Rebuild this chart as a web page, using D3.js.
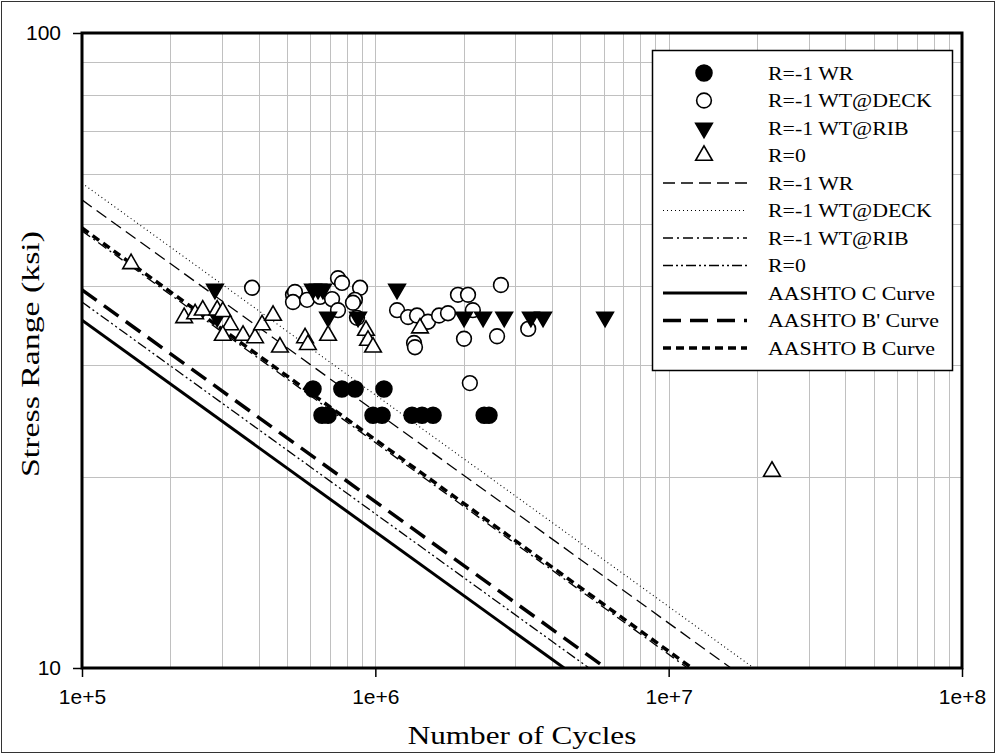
<!DOCTYPE html>
<html>
<head>
<meta charset="utf-8">
<script src="https://cdn.jsdelivr.net/npm/d3@7"></script>
<style>
  body { margin: 0; background: #fff; }
  svg { display: block; }
  .tick text { font-family: "Liberation Sans", Arial, sans-serif; font-size: 21px; fill: #000; }
  .title { font-family: "Liberation Serif", "Times New Roman", serif; font-size: 26px; fill: #000; }
  .leg text { font-family: "Liberation Serif", "Times New Roman", serif; font-size: 19px; fill: #000; }
</style>
</head>
<body>
<div id="chart"></div>
<script>
// test data (N = cycles, S = stress range in ksi)
var wrN = [6.13e5, 7.69e5, 8.53e5, 1.07e6, 6.58e5, 6.90e5, 9.82e5, 1.054e6, 1.334e6, 1.443e6, 1.573e6, 2.35e6, 2.44e6];
var wrS = [27.5, 27.5, 27.5, 27.5, 25, 25, 25, 25, 25, 25, 25, 25, 25];

var deckN = [3.80e5, 5.24e5, 5.32e5, 5.24e5, 5.85e5, 6.48e5, 7.12e5, 7.46e5, 7.70e5, 7.46e5, 8.87e5, 8.52e5, 8.39e5, 8.66e5,
             1.186e6, 1.293e6, 1.387e6, 1.355e6, 1.365e6, 1.512e6, 1.649e6, 1.769e6, 1.913e6, 2.07e6, 2.15e6, 2.006e6, 2.10e6,
             2.68e6, 2.60e6, 3.32e6];
var deckS = [39.7, 38.7, 39.1, 37.7, 38.0, 38.4, 38.1, 41.1, 40.4, 36.6, 39.7, 38.0, 37.6, 35.6,
             36.6, 35.7, 35.9, 32.5, 32.0, 35.1, 35.9, 36.2, 38.7, 38.7, 36.6, 33.0, 28.1,
             40.1, 33.3, 34.2];

var ribN = [2.84e5, 2.89e5, 6.13e5, 6.38e5, 6.63e5, 6.90e5, 8.73e5, 1.186e6, 2.006e6, 2.33e6, 2.75e6, 3.39e6, 3.73e6, 6.07e6];
var ribS = [39.5, 35.7, 39.5, 39.5, 39.5, 35.7, 35.7, 39.5, 35.7, 35.7, 35.7, 35.7, 35.7, 35.7];

var r0N = [1.47e5, 2.23e5, 2.43e5, 2.58e5, 2.89e5, 3.02e5, 3.20e5, 3.02e5, 3.54e5, 3.89e5, 4.11e5, 4.48e5, 4.73e5,
           5.76e5, 5.89e5, 6.90e5, 9.29e5, 9.44e5, 9.82e5, 1.42e6, 2.25e7];
var r0S = [43.3, 35.6, 36.1, 36.6, 36.6, 36.4, 34.7, 33.4, 33.4, 33.1, 34.7, 35.9, 32.0,
           33.1, 32.3, 33.4, 34.0, 32.8, 32.0, 34.3, 20.4];

// fitted S-N lines: stress at N = 1e5 and N where stress reaches 10 ksi
var lineNames = ["R=-1 WR", "R=-1 WT@DECK", "R=-1 WT@RIB", "R=0", "AASHTO C Curve", "AASHTO B' Curve", "AASHTO B Curve"];
var lineStartS = [54.6, 58.0, 48.8, 37.7, 35.3, 39.4, 49.3];
var lineEndN = [1.63e7, 1.95e7, 1.16e7, 5.35e6, 4.4e6, 6.1e6, 1.2e7];

var markerNames = ["R=-1 WR", "R=-1 WT@DECK", "R=-1 WT@RIB", "R=0"];

var xTicks = [1e5, 1e6, 1e7, 1e8];
var yTicks = [10, 100];

var W = 996, H = 754;
var svg = d3.select("#chart").append("svg").attr("width", W).attr("height", H);

svg.append("rect").attr("x", 1.5).attr("y", 1.5).attr("width", W - 3).attr("height", H - 3)
    .attr("fill", "#fff").attr("stroke", "#333").attr("stroke-width", 1);

var pLeft = 82, pRight = 962, pTop = 33, pBottom = 668;
var x = d3.scaleLog().domain([1e5, 1e8]).range([pLeft, pRight]);
var y = d3.scaleLog().domain([10, 100]).range([pBottom, pTop]);

// grid
var grid = svg.append("g").attr("stroke", "#c0c0c0").attr("stroke-width", 1);
grid.selectAll(".gx").data(x.ticks()).enter().append("line")
    .attr("x1", function(d) { return Math.round(x(d)) + 0.5; })
    .attr("x2", function(d) { return Math.round(x(d)) + 0.5; })
    .attr("y1", pTop).attr("y2", pBottom);
grid.selectAll(".gy").data(y.ticks()).enter().append("line")
    .attr("y1", function(d) { return Math.round(y(d)) + 0.5; })
    .attr("y2", function(d) { return Math.round(y(d)) + 0.5; })
    .attr("x1", pLeft).attr("x2", pRight);

svg.append("clipPath").attr("id", "clip").append("rect")
    .attr("x", pLeft).attr("y", pTop).attr("width", pRight - pLeft).attr("height", pBottom - pTop);

var lineStyle = [
    {w: 1.3, dash: "12,6"},
    {w: 1.1, dash: "1,3"},
    {w: 1.3, dash: "10,4,2,4"},
    {w: 1.3, dash: "10,3,2,3,2,3"},
    {w: 3, dash: null},
    {w: 3.5, dash: "18,9"},
    {w: 3.5, dash: "8,5"}
];

var lineData = lineNames.map(function(n, i) {
    return {name: n, pts: [[1e5, lineStartS[i]], [lineEndN[i], 10]], st: lineStyle[i]};
});

var path = d3.line().x(function(d) { return x(d[0]); }).y(function(d) { return y(d[1]); });

svg.append("g").attr("clip-path", "url(#clip)")
    .selectAll("path").data(lineData).enter().append("path")
    .attr("d", function(d) { return path(d.pts); })
    .attr("fill", "none")
    .attr("stroke", "#000")
    .attr("stroke-width", function(d) { return d.st.w; })
    .attr("stroke-dasharray", function(d) { return d.st.dash; });

// markers
var markerStyle = [
    {type: d3.symbolCircle, size: 200, fill: "#000", rot: 0},
    {type: d3.symbolCircle, size: 170, fill: "#fff", rot: 0},
    {type: d3.symbolTriangle, size: 120, fill: "#000", rot: 180},
    {type: d3.symbolTriangle, size: 120, fill: "#fff", rot: 0}
];
var series = [[wrN, wrS], [deckN, deckS], [ribN, ribS], [r0N, r0S]];

series.forEach(function(s, i) {
    var st = markerStyle[i];
    var pts = s[0].map(function(n, j) { return [n, s[1][j]]; });
    svg.append("g").selectAll("path").data(pts).enter().append("path")
        .attr("d", d3.symbol().type(st.type).size(st.size))
        .attr("transform", function(d) {
            return "translate(" + x(d[0]) + "," + y(d[1]) + ") rotate(" + st.rot + ")";
        })
        .attr("fill", st.fill)
        .attr("stroke", "#000")
        .attr("stroke-width", 1.6);
});

// axes
var xAxis = d3.axisBottom(x).tickValues(xTicks)
    .tickFormat(function(d) { return "1e+" + Math.round(Math.log10(d)); })
    .tickSize(9).tickSizeOuter(0).tickPadding(12);
var gx = svg.append("g").attr("transform", "translate(0," + pBottom + ")").call(xAxis);
gx.select(".domain").remove();
gx.selectAll(".tick line").attr("stroke", "#000").attr("stroke-width", 1.5);

var yAxis = d3.axisLeft(y).tickValues(yTicks).tickFormat(d3.format("d"))
    .tickSize(9).tickSizeOuter(0).tickPadding(12);
var gy = svg.append("g").attr("transform", "translate(" + pLeft + ",0)").call(yAxis);
gy.select(".domain").remove();
gy.selectAll(".tick line").attr("stroke", "#000").attr("stroke-width", 1.5);

svg.append("rect").attr("x", pLeft).attr("y", pTop)
    .attr("width", pRight - pLeft).attr("height", pBottom - pTop)
    .attr("fill", "none").attr("stroke", "#000").attr("stroke-width", 3);

svg.append("text").attr("class", "title")
    .attr("transform", "translate(" + (pLeft + pRight) / 2 + ",744) scale(1.2,1)")
    .attr("text-anchor", "middle").text("Number of Cycles");
svg.append("text").attr("class", "title")
    .attr("transform", "translate(39,354) rotate(-90) scale(1.3,1)")
    .attr("text-anchor", "middle").text("Stress Range (ksi)");

// legend
var leg = svg.append("g").attr("class", "leg");
leg.append("rect").attr("x", 652.5).attr("y", 50.5).attr("width", 300).attr("height", 320)
    .attr("fill", "#fff").attr("stroke", "#000").attr("stroke-width", 1.5);

var rowY = function(i) { return 73 + i * 27.5; };

markerNames.forEach(function(n, i) {
    var st = markerStyle[i];
    leg.append("path")
        .attr("d", d3.symbol().type(st.type).size(st.size)())
        .attr("transform", "translate(704," + rowY(i) + ") rotate(" + st.rot + ")")
        .attr("fill", st.fill).attr("stroke", "#000").attr("stroke-width", 1.6);
    leg.append("text").attr("transform", "translate(768," + (rowY(i) + 6.5) + ") scale(1.15,1)").text(n);
});

lineData.forEach(function(d, i) {
    var yy = rowY(i + 4);
    leg.append("line").attr("x1", 663).attr("x2", 747).attr("y1", yy).attr("y2", yy)
        .attr("stroke", "#000").attr("stroke-width", d.st.w)
        .attr("stroke-dasharray", d.st.dash);
    leg.append("text").attr("transform", "translate(768," + (yy + 6.5) + ") scale(1.15,1)").text(d.name);
});
</script>
</body>
</html>
